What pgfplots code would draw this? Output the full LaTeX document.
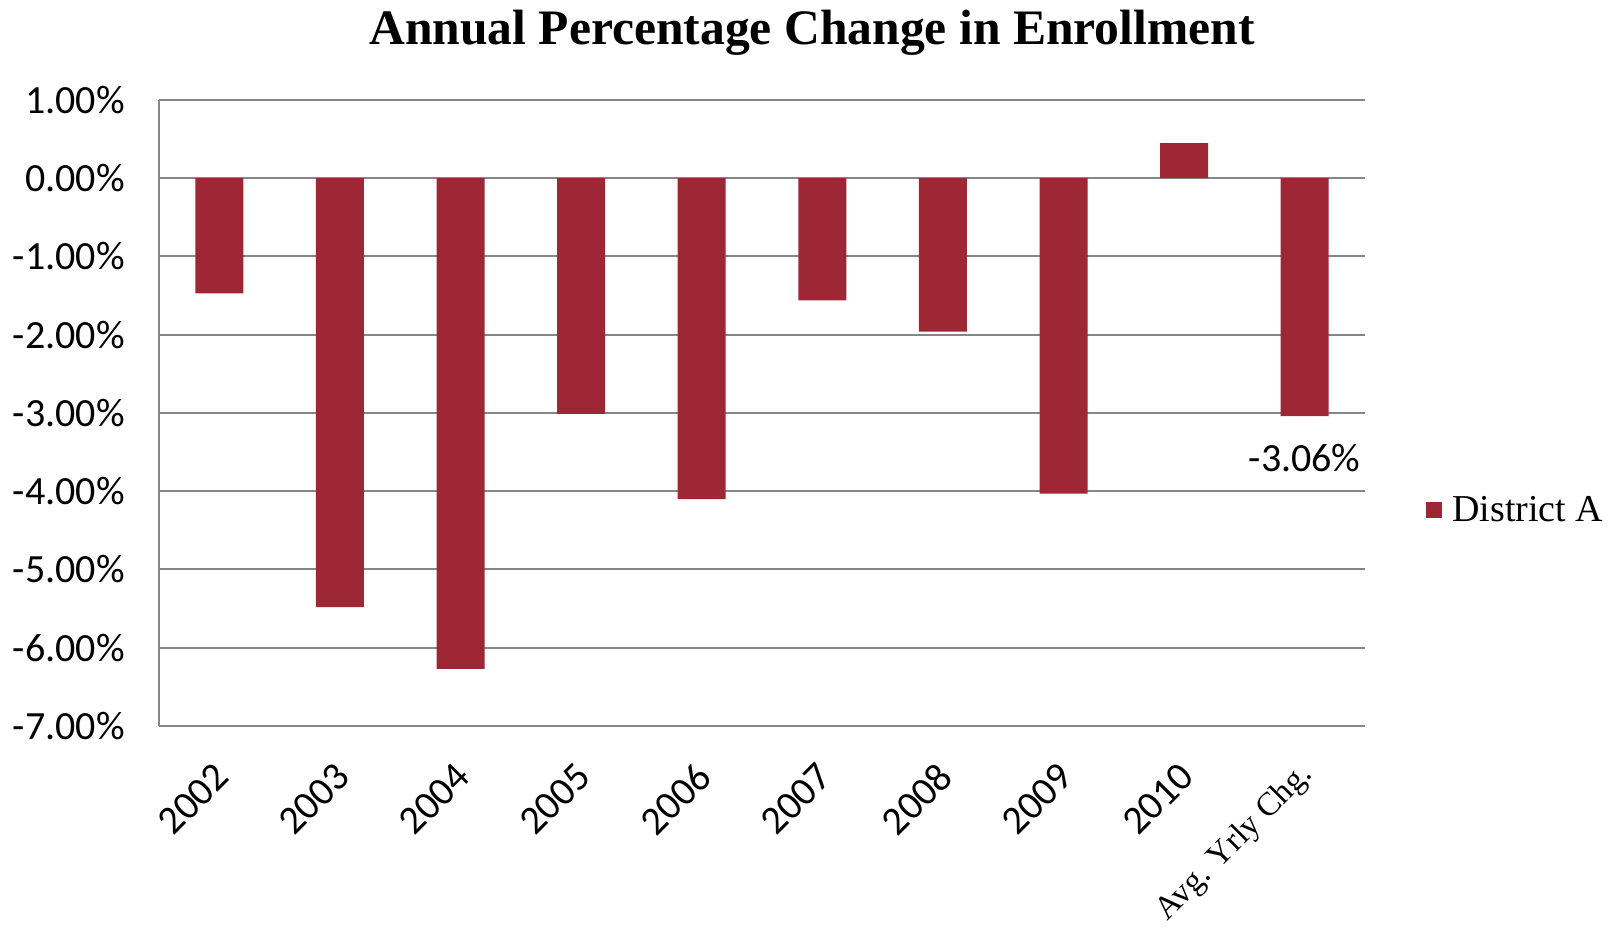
\documentclass[border=0pt]{standalone}
\usepackage{fontspec}
\setmainfont{Carlito}
\newfontfamily\serif{Liberation Serif}
\usepackage{pgfplots}
\pgfplotsset{compat=1.18}
\definecolor{barred}{RGB}{158,39,54}
\definecolor{gridgray}{RGB}{134,134,134}
\begin{document}
\begin{tikzpicture}
\begin{axis}[
  at={(79.5bp,105.5bp)}, anchor=south west,
  scale only axis, width=603bp, height=313bp,
  xmin=-0.5, xmax=9.5, ymin=-7, ymax=1,
  ybar, bar width=24bp,
  xtick={0,...,9},
  xticklabels={2002,2003,2004,2005,2006,2007,2008,2009,2010,{\serif\fontsize{16.5bp}{20bp}\selectfont Avg. Yrly Chg.}},
  ytick={-7,...,1},
  yticklabels={-7.00\%,-6.00\%,-5.00\%,-4.00\%,-3.00\%,-2.00\%,-1.00\%,0.00\%,1.00\%},
  major tick length=0pt,
  axis x line*=bottom, axis y line*=left,
  axis line style={gridgray, line width=1bp, -},
  ymajorgrids, major grid style={gridgray, line width=1bp},
  tick label style={font=\fontsize{20bp}{24bp}\selectfont},
  yticklabel style={anchor=east, inner sep=0pt, xshift=-17bp},
  xticklabel style={inner sep=0pt, xshift=1.5bp, yshift=-22bp, rotate=45, anchor=east},
  legend style={at={(1.0506,0.345)}, anchor=west, draw=none, fill=none, inner sep=0pt, font=\serif\fontsize{19bp}{23bp}\selectfont, /tikz/every odd column/.append style={column sep=3bp}},
  legend image code/.code={\fill[barred] (0bp,-4bp) rectangle (8bp,4bp);},
  nodes near coords={\pgfplotspointmeta},
  point meta=explicit symbolic,
  every node near coord/.append style={font=\fontsize{20bp}{24bp}\selectfont, anchor=north, inner sep=0pt, yshift=-14bp},
  clip=false,
]
\addplot[fill=barred, draw=none] coordinates {
 (0,-1.47) []
 (1,-5.48) []
 (2,-6.27) []
 (3,-3.01) []
 (4,-4.10) []
 (5,-1.56) []
 (6,-1.96) []
 (7,-4.03) []
 (8,0.45) []
 (9,-3.04) [-3.06\%]
};
\legend{District A}
\end{axis}
\node[font=\serif\bfseries\fontsize{24.8bp}{30bp}\selectfont, anchor=base] at (406bp, 446bp) {Annual Percentage Change in Enrollment};
\pgfresetboundingbox
\path[use as bounding box] (0,0) rectangle (806bp,468.5bp);
\end{tikzpicture}
\end{document}
